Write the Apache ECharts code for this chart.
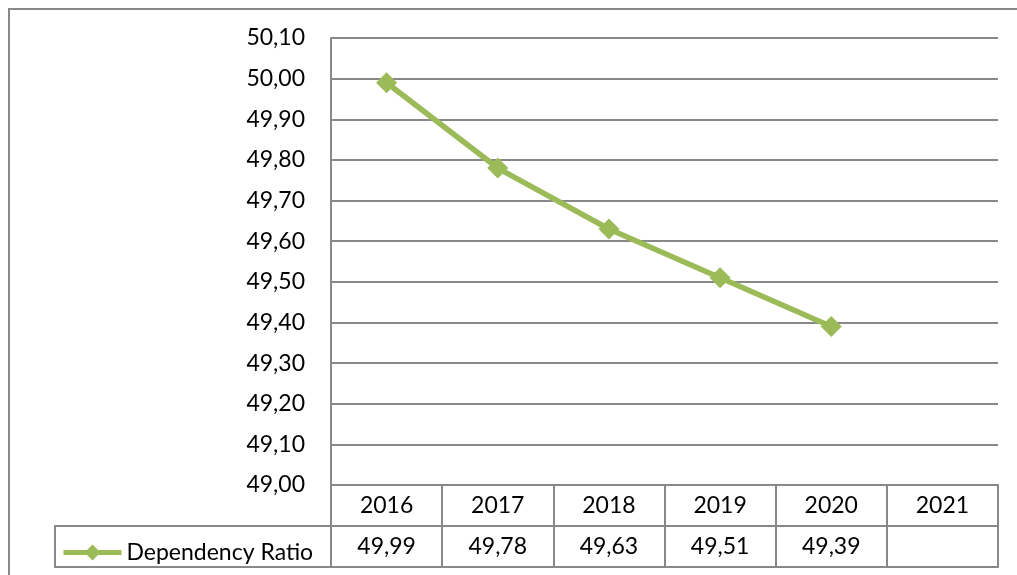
<!DOCTYPE html>
<html>
<head>
<meta charset="utf-8">
<script src="https://cdn.jsdelivr.net/npm/echarts@6/dist/echarts.min.js"></script>
<style>
  html, body { margin: 0; padding: 0; background: #fff; }
  #chart { width: 1017px; height: 575px; }
</style>
</head>
<body>
<div id="chart"></div>
<script>
// Dependency ratio by year, with a data table under the axis
const years = ['2016', '2017', '2018', '2019', '2020', '2021'];
const dependencyRatio = [49.99, 49.78, 49.63, 49.51, 49.39, null];
const seriesName = 'Dependency Ratio';
const yMin = 49.0;
const yMax = 50.1;
const yStep = 0.1;

const FONT = 'Lato, Carlito, "Liberation Sans", sans-serif';
const FONT_SIZE = 23;
const GREEN = '#9BBB59';
const GRID_GRAY = '#888888';

const fmt = v => (v === null || v === undefined) ? '' : v.toFixed(2).replace('.', ',');
const tableValues = dependencyRatio.map(fmt);

const chart = echarts.init(document.getElementById('chart'), null, { renderer: 'canvas' });

const tableAxis = (data, offset, showLabel) => ({
  type: 'category',
  position: 'bottom',
  offset: offset,
  data: data,
  boundaryGap: true,
  axisLine: { show: true, lineStyle: { color: GRID_GRAY, width: 2 } },
  axisTick: { show: showLabel, interval: 0, length: 41, inside: false, lineStyle: { color: GRID_GRAY, width: 2 } },
  axisLabel: { show: showLabel, interval: 0, margin: 9, color: '#000', fontSize: FONT_SIZE, fontFamily: FONT },
  splitLine: { show: false }
});

chart.setOption({
  animation: false,
  backgroundColor: '#fff',
  textStyle: { fontFamily: FONT },
  grid: { left: 331, right: 19, top: 38, bottom: 90, containLabel: false },
  graphic: [
    // outer chart frame
    { type: 'rect', z: -1, shape: { x: 9, y: 9, width: 1040, height: 620 },
      style: { fill: 'none', stroke: GRID_GRAY, lineWidth: 2 } },
    // legend key cell of the data table
    { type: 'rect', shape: { x: 55, y: 526, width: 276, height: 41 },
      style: { fill: 'none', stroke: GRID_GRAY, lineWidth: 2 } }
  ],
  legend: {
    show: true,
    left: 56,
    top: 536,
    itemWidth: 58,
    itemHeight: 20,
    itemGap: 5,
    lineStyle: { width: 5, color: GREEN },
    itemStyle: { color: GREEN },
    textStyle: { color: '#000', fontSize: FONT_SIZE, fontFamily: FONT },
    data: [seriesName]
  },
  xAxis: [
    tableAxis(years, 0, true),
    tableAxis(tableValues, 41, true),
    tableAxis(years, 82, false)
  ],
  yAxis: {
    type: 'value',
    min: yMin,
    max: yMax,
    interval: yStep,
    axisLine: { show: true, lineStyle: { color: GRID_GRAY, width: 2 } },
    axisTick: { show: false },
    axisLabel: {
      margin: 26,
      color: '#000',
      fontSize: FONT_SIZE,
      fontFamily: FONT,
      formatter: v => v.toFixed(2).replace('.', ',')
    },
    splitLine: { show: true, lineStyle: { color: GRID_GRAY, width: 2 } }
  },
  series: [{
    name: seriesName,
    type: 'line',
    xAxisIndex: 0,
    data: dependencyRatio,
    symbol: 'diamond',
    symbolSize: 21,
    showAllSymbol: true,
    connectNulls: false,
    lineStyle: { color: GREEN, width: 5.5 },
    itemStyle: { color: GREEN },
    z: 5
  }]
});
</script>
</body>
</html>
